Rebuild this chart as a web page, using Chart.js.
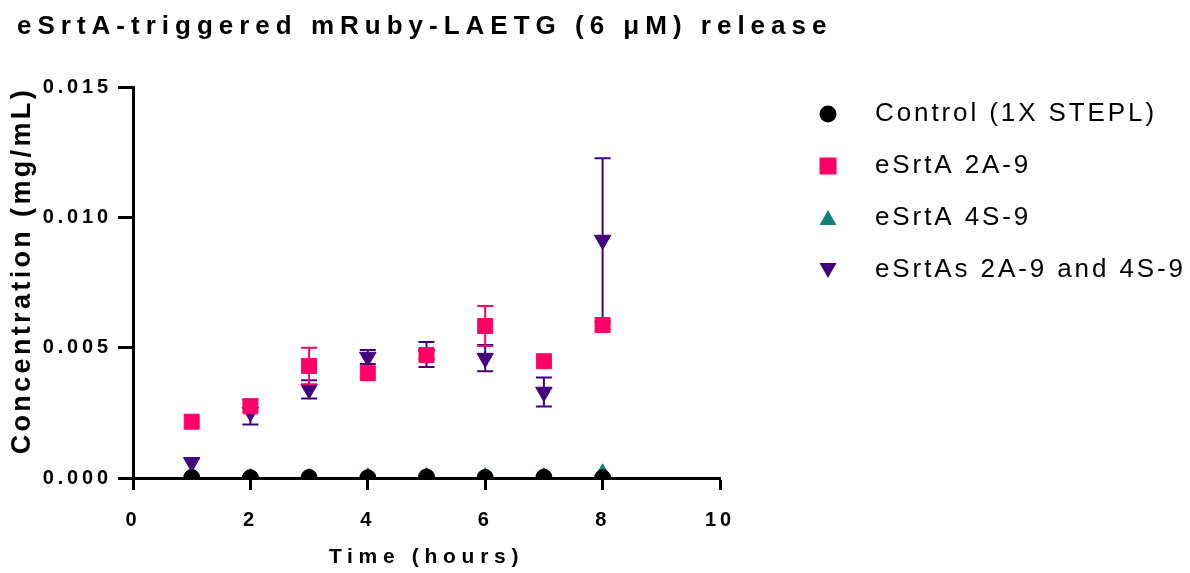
<!DOCTYPE html>
<html>
<head>
<meta charset="utf-8">
<title>eSrtA-triggered release</title>
<script src="https://cdn.jsdelivr.net/npm/chart.js@4.4.0/dist/chart.umd.min.js"></script>
<style>
  html, body { margin: 0; padding: 0; background: #fff; }
</style>
</head>
<body>
<canvas id="releaseChart" width="1190" height="573"></canvas>
<script>
// sampling times (hours)
const hours = [1, 2, 3, 4, 5, 6, 7, 8];

// mean concentration (mg/mL) and error per group
const controlConc   = [0.00002, 0.00001, 0.00002, 0.00001, 0.00004, 0.00002, 0.00003, 0.00001];
const srtA2A9Conc   = [0.00216, 0.00275, 0.0043, 0.00402, 0.00472, 0.00583, 0.00448, 0.00587];
const srtA2A9Err    = [0, 0, 0.0007, 0, 0.00015, 0.00077, 0, 0];
const srtA4S9Conc   = [0, 0, 0, 0.00003, 0.00004, 0.00004, 0.00004, 0.00018];
const srtAsBothConc = [0.0006, 0.00253, 0.0034, 0.00464, 0.00474, 0.0046, 0.0033, 0.00913];
const srtAsBothErr  = [0, 0.00048, 0.00035, 0.00027, 0.00048, 0.0005, 0.00056, 0.00314];

const seriesLabels = ['Control (1X STEPL)', 'eSrtA 2A-9', 'eSrtA 4S-9', 'eSrtAs 2A-9 and 4S-9'];
const yTicks = [0, 0.005, 0.010, 0.015];

const COLORS = {
  control: '#000000',
  a2a9: '#FF0066',
  a4s9: '#14807A',
  both: '#43007F'
};
const FONT = "'Liberation Sans', Arial, sans-serif";

// Prism-style wide tracking: letter spacing picked by font weight + size
const trackBySize = { b26: '6px', n26: '2.9px', b20: '3.8px', b21: '5.7px', b27: '3.35px' };
const fontDesc = Object.getOwnPropertyDescriptor(CanvasRenderingContext2D.prototype, 'font');
Object.defineProperty(CanvasRenderingContext2D.prototype, 'font', {
  configurable: true,
  get() { return fontDesc.get.call(this); },
  set(value) {
    fontDesc.set.call(this, value);
    const m = /(bold|700)?\s*(\d+(?:\.\d+)?)px/.exec(value);
    const key = m ? (m[1] ? 'b' : 'n') + m[2] : '';
    if ('letterSpacing' in this) this.letterSpacing = trackBySize[key] || '0px';
  }
});

// small canvases used as legend symbols
function legendIcon(shape, color) {
  const c = document.createElement('canvas');
  c.width = 22; c.height = 22;
  const g = c.getContext('2d');
  g.fillStyle = color;
  g.beginPath();
  if (shape === 'circle') {
    g.arc(11, 11, 8.5, 0, Math.PI * 2);
  } else if (shape === 'rect') {
    g.rect(2.5, 2.5, 17, 17);
  } else if (shape === 'up') {
    g.moveTo(11, 3); g.lineTo(19.5, 18); g.lineTo(2.5, 18);
  } else {
    g.moveTo(2.5, 4); g.lineTo(19.5, 4); g.lineTo(11, 19);
  }
  g.closePath();
  g.fill();
  return c;
}
const legendIcons = [
  legendIcon('circle', COLORS.control),
  legendIcon('rect', COLORS.a2a9),
  legendIcon('up', COLORS.a4s9),
  legendIcon('down', COLORS.both)
];

const toPoints = vals => hours.map((h, i) => ({ x: h, y: vals[i] }));

// vertical error bars with caps, drawn underneath each dataset's markers
const errorBarPlugin = {
  id: 'errorBars',
  beforeDatasetDraw(chart, args) {
    const ds = chart.data.datasets[args.index];
    if (!ds.errors) return;
    const yScale = chart.scales.y;
    const ctx = chart.ctx;
    ctx.save();
    ctx.strokeStyle = ds.borderColor;
    ctx.lineWidth = 2;
    args.meta.data.forEach((pt, i) => {
      const e = ds.errors[i];
      if (!e) return;
      const v = ds.data[i].y;
      const top = yScale.getPixelForValue(v + e);
      const bot = yScale.getPixelForValue(v - e);
      ctx.beginPath();
      ctx.moveTo(pt.x, top); ctx.lineTo(pt.x, bot);
      ctx.moveTo(pt.x - 8, top); ctx.lineTo(pt.x + 8, top);
      ctx.moveTo(pt.x - 8, bot); ctx.lineTo(pt.x + 8, bot);
      ctx.stroke();
    });
    ctx.restore();
  }
};

const ctx = document.getElementById('releaseChart').getContext('2d');
new Chart(ctx, {
  type: 'scatter',
  data: {
    datasets: [
      {
        label: seriesLabels[0],
        data: toPoints(controlConc),
        backgroundColor: COLORS.control,
        borderColor: COLORS.control,
        pointStyle: 'circle',
        pointRadius: 8,
        pointBorderWidth: 1
      },
      {
        label: seriesLabels[1],
        data: toPoints(srtA2A9Conc),
        errors: srtA2A9Err,
        backgroundColor: COLORS.a2a9,
        borderColor: COLORS.a2a9,
        pointStyle: 'rect',
        pointRadius: 10.6,
        pointBorderWidth: 1
      },
      {
        label: seriesLabels[2],
        data: toPoints(srtA4S9Conc),
        backgroundColor: COLORS.a4s9,
        borderColor: COLORS.a4s9,
        pointStyle: 'triangle',
        pointRadius: 9.5,
        pointBorderWidth: 1
      },
      {
        label: seriesLabels[3],
        data: toPoints(srtAsBothConc),
        errors: srtAsBothErr,
        backgroundColor: COLORS.both,
        borderColor: COLORS.both,
        pointStyle: 'triangle',
        pointRotation: 180,
        pointRadius: 9.5,
        pointBorderWidth: 1
      }
    ]
  },
  options: {
    responsive: false,
    animation: false,
    layout: { padding: { left: 17, right: 0, top: 0, bottom: 0 } },
    plugins: {
      tooltip: { enabled: false },
      title: {
        display: true,
        text: 'eSrtA-triggered mRuby-LAETG (6 \u03bcM) release',
        align: 'start',
        color: '#000',
        font: { family: FONT, size: 26, weight: 'bold' },
        padding: { top: 11.4, bottom: 44.4 }
      },
      legend: {
        position: 'right',
        align: 'start',
        maxWidth: 422,
        // blank title only pushes the entries down beside the plot
        title: { display: true, text: ' ', font: { size: 10 }, padding: { top: 0, bottom: 63 } },
        labels: {
          usePointStyle: true,
          pointStyleWidth: 68,
          padding: 26,
          color: '#000',
          font: { family: FONT, size: 26, weight: 'normal' },
          generateLabels(chart) {
            const items = Chart.defaults.plugins.legend.labels.generateLabels(chart);
            items.forEach((item, i) => {
              item.pointStyle = legendIcons[i];
              item.rotation = 0;
            });
            return items;
          }
        }
      }
    },
    scales: {
      x: {
        type: 'linear',
        min: 0,
        max: 10,
        afterFit(axis) { axis.height = 95; },
        border: { display: true, color: '#000', width: 3 },
        grid: { drawOnChartArea: false, drawTicks: true, tickLength: 12, tickWidth: 3, tickColor: '#000' },
        ticks: { stepSize: 2, padding: 18, color: '#000', font: { family: FONT, size: 20, weight: 'bold' } },
        title: {
          display: true,
          text: 'Time (hours)',
          color: '#000',
          font: { family: FONT, size: 21, weight: 'bold' },
          padding: { top: 0, bottom: 3.4 }
        }
      },
      y: {
        type: 'linear',
        min: yTicks[0],
        max: yTicks[yTicks.length - 1],
        afterFit(axis) { axis.width = 116; },
        afterBuildTicks(axis) { axis.ticks = yTicks.map(v => ({ value: v })); },
        border: { display: true, color: '#000', width: 3 },
        grid: { drawOnChartArea: false, drawTicks: true, tickLength: 15, tickWidth: 3, tickColor: '#000' },
        ticks: {
          padding: 6.2,
          color: '#000',
          font: { family: FONT, size: 20, weight: 'bold' },
          callback: v => Number(v).toFixed(3)
        },
        title: {
          display: true,
          text: 'Concentration (mg/mL)',
          align: 'end',
          color: '#000',
          font: { family: FONT, size: 27, weight: 'bold' },
          padding: { top: -10.2, bottom: 0 }
        }
      },
      // empty right-hand axis keeps the gap between plot and legend
      gap: {
        type: 'linear',
        position: 'right',
        display: true,
        afterFit(axis) { axis.width = 48; },
        border: { display: false },
        grid: { display: false, drawTicks: false },
        ticks: { display: false }
      }
    }
  },
  plugins: [errorBarPlugin]
});
</script>
</body>
</html>
